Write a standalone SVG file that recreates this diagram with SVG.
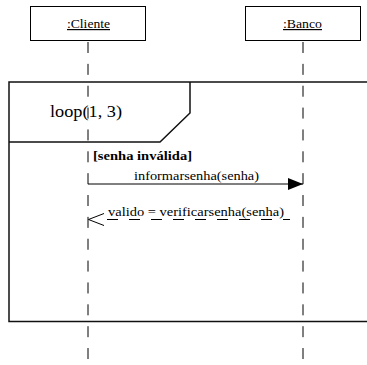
<svg xmlns="http://www.w3.org/2000/svg" width="367" height="365" viewBox="0 0 367 365">
  <defs>
    <style>
      .obj { fill: #fff; stroke: #000; stroke-width: 1; }
      .life { stroke: #000; stroke-width: 1; stroke-dasharray: 11 10.86; fill: none; }
      .frame { fill: none; stroke: #111; stroke-width: 1.5; }
      .msg { stroke: #000; stroke-width: 1; fill: none; }
      .ret { stroke: #000; stroke-width: 1; stroke-dasharray: 11 11; fill: none; }
      text { font-family: 'Liberation Serif', 'DejaVu Serif', serif; fill: #000; }
    </style>
    <marker id="filled" markerWidth="15" markerHeight="12" refX="15" refY="6" orient="auto" markerUnits="userSpaceOnUse">
      <path d="M0,0 L15,6 L0,12 Z" fill="#000"/>
    </marker>
  </defs>
  <rect width="367" height="365" fill="#fff"/>

  <!-- lifelines -->
  <g id="connectors">
    <line class="life" x1="88" y1="42" x2="88" y2="365"/>
    <line class="life" x1="303" y1="42" x2="303" y2="365"/>
  </g>

  <!-- object heads -->
  <g id="cliente">
    <rect class="obj" x="30.5" y="6.5" width="115" height="34"/>
    <text x="67" y="28" font-size="12" textLength="43" lengthAdjust="spacingAndGlyphs" text-decoration="underline">:Cliente</text>
  </g>
  <g id="banco">
    <rect class="obj" x="245.5" y="6.5" width="115" height="34"/>
    <text x="283" y="28" font-size="12" textLength="39" lengthAdjust="spacingAndGlyphs" text-decoration="underline">:Banco</text>
  </g>

  <!-- combined fragment -->
  <g id="loop">
    <rect class="frame" x="9" y="82" width="380" height="239.5"/>
    <path class="frame" d="M9,142 L160,142 L190,113 L190,82"/>
    <text x="50" y="117" font-size="17" textLength="72" lengthAdjust="spacingAndGlyphs">loop(1, 3)</text>
    <text x="93" y="160" font-size="12.5" font-weight="bold" textLength="99" lengthAdjust="spacingAndGlyphs">[senha inválida]</text>
  </g>

  <!-- messages -->
  <g id="messages">
    <line class="msg" x1="88" y1="184" x2="303" y2="184" marker-end="url(#filled)"/>
    <text x="134" y="180" font-size="11.5" textLength="125" lengthAdjust="spacingAndGlyphs">informarsenha(senha)</text>
    <line class="ret" x1="107" y1="219.5" x2="290" y2="219.5"/>
    <path class="msg" d="M104,213.5 L88.5,219.5 L104,225.5"/>
    <text x="108" y="216" font-size="11.5" textLength="176" lengthAdjust="spacingAndGlyphs">valido = verificarsenha(senha)</text>
  </g>
</svg>
